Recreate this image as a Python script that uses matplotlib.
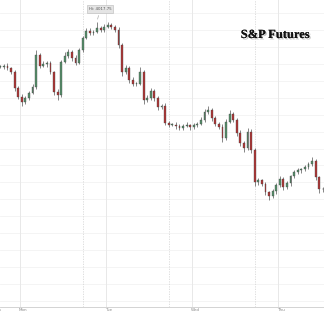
import matplotlib
matplotlib.use('Agg')
import matplotlib.pyplot as plt
import matplotlib.patheffects as pe
import numpy as np

# hourly candles, first one opens Sunday 18:00 (hour -6 relative to Monday 00:00)
start_hour = -6
first_open = 3995.25
closes = [
    3995.25, 3995.75, 3994.75, 3992.75, 3984.75, 3980.25, 3977.75, 3979.75, 3982.25, 3985.25,
    4001.25, 3995.75, 3996.75, 3997.25, 3992.75, 3982.75, 3981.25, 3997.75, 4000.75, 4002.75,
    3999.75, 3997.25, 4003.75, 4009.75, 4013.25, 4012.25, 4012.75, 4014.75, 4013.75, 4015.25,
    4016.25, 4015.25, 4013.75, 4006.25, 3992.75, 3994.75, 3988.75, 3986.75, 3986.75, 3992.75,
    3978.75, 3979.75, 3983.25, 3979.75, 3975.25, 3975.75, 3967.25, 3966.25, 3966.25, 3965.75,
    3964.75, 3965.75, 3966.25, 3965.25, 3966.25, 3966.75, 3968.75, 3972.75, 3973.75, 3969.75,
    3966.75, 3965.25, 3959.75, 3967.75, 3971.75, 3968.75, 3962.25, 3957.25, 3954.75, 3962.75,
    3953.75, 3937.25, 3938.25, 3936.25, 3932.25, 3930.25, 3932.75, 3935.75, 3938.75, 3934.75,
    3936.75, 3940.25, 3942.25, 3943.25, 3943.75, 3944.75, 3946.25, 3947.75, 3939.75, 3933.75,
    3933.75, 3936.25,
]
wick_up = [
    1.0, 0.75, 1.25, 0.5, 1.0, 0.75, 1.5, 1.0, 0.75, 1.25,
    2.5, 1.0, 1.5, 0.75, 1.0, 0.5, 1.25, 1.0, 2.0, 1.5,
    1.0, 1.25, 0.75, 1.0, 1.5, 1.25, 1.0, 3.0, 1.0, 1.5,
    1.25, 1.0, 0.75, 1.5, 1.0, 1.5, 1.0, 1.25, 0.75, 2.5,
    1.0, 1.5, 1.25, 1.0, 0.75, 1.0, 1.25, 0.75, 1.0, 1.25,
    0.75, 1.0, 1.25, 0.5, 1.0, 0.75, 1.25, 1.5, 2.0, 1.0,
    0.75, 1.0, 1.25, 1.5, 2.0, 1.0, 0.75, 1.25, 1.0, 2.0,
    1.5, 1.0, 1.25, 0.75, 1.0, 0.5, 1.25, 1.0, 1.5, 1.0,
    1.25, 0.75, 1.0, 1.25, 0.75, 1.0, 1.25, 2.0, 1.0, 0.75,
    1.0, 1.25,
]
wick_dn = [
    0.75, 1.0, 1.25, 1.0, 1.5, 1.25, 2.0, 1.0, 1.25, 0.75,
    1.0, 1.25, 0.75, 1.5, 1.0, 1.75, 2.5, 1.0, 0.75, 1.25,
    1.5, 1.0, 0.75, 1.0, 0.5, 1.25, 1.0, 0.75, 1.25, 1.0,
    0.5, 1.0, 1.25, 1.5, 2.0, 1.0, 1.5, 1.25, 1.0, 0.75,
    2.0, 1.25, 1.0, 1.5, 1.75, 1.0, 1.25, 1.0, 0.75, 1.5,
    1.25, 1.0, 0.75, 1.5, 1.0, 1.25, 0.75, 1.0, 1.25, 1.5,
    1.0, 1.25, 2.0, 1.0, 0.75, 1.25, 1.5, 1.75, 2.0, 1.25,
    1.5, 2.0, 1.25, 1.0, 1.5, 1.75, 1.0, 1.25, 1.0, 1.5,
    1.0, 1.25, 0.75, 1.0, 1.25, 1.0, 0.75, 1.0, 1.5, 2.0,
    1.25, 1.0,
]
day_names = ['Sun', 'Mon', 'Tue', 'Wed', 'Thu']
day_hours = [-24, 0, 24, 48, 72]
session_breaks = [17.5, 41.5, 65.5]
hi_label = 'Hi: 4017.75'
title = 'S&P Futures'

closes = np.array(closes)
opens = np.concatenate([[first_open], closes[:-1]])
highs = np.maximum(opens, closes) + np.array(wick_up)
lows = np.minimum(opens, closes) - np.array(wick_dn)
hours = start_hour + np.arange(len(closes)) + 0.5
up = closes >= opens

fig = plt.figure(figsize=(3.24, 3.15), dpi=100)
ax = fig.add_axes([0, 8 / 315, 1, 307 / 315])

# grid
for y in np.arange(3877.75, 4030, 8.5):
    ax.axhline(y, color='#f3f3f3', lw=0.6, zorder=0)
for h in day_hours[1:]:
    ax.axvline(h, color='#e8e8e8', lw=0.7, zorder=0)
for h in session_breaks:
    ax.axvline(h, color='#d8d8d8', lw=0.6, ls=(0, (1.5, 1.5)), zorder=0)

# candles
ax.vlines(hours, lows, highs, color='#444444', lw=0.45, zorder=2)
body_col = np.where(up, '#55906a', '#b03535')
ax.bar(hours, np.maximum(np.abs(closes - opens), 0.25), bottom=np.minimum(opens, closes),
       width=0.5, color=body_col, edgecolor='#444444', linewidth=0.25, zorder=3)

# high marker
hi_idx = int(np.argmax(highs))
ax.annotate(hi_label, xy=(hours[hi_idx], highs[hi_idx]), xytext=(hours[hi_idx] + 0.8, highs[hi_idx] + 6.5),
            fontsize=2.8, color='#555555', ha='center', va='center',
            bbox=dict(boxstyle='square,pad=0.4', fc='#e4e4e4', ec='#b8b8b8', lw=0.4),
            arrowprops=dict(arrowstyle='-', color='#999999', lw=0.4), zorder=4)

ax.text(0.849, 0.886, title, transform=ax.transAxes, ha='center', va='center',
        fontsize=9, fontweight='bold', family='Liberation Serif', color='#111111',
        path_effects=[pe.withSimplePatchShadow(offset=(1, -1), shadow_rgbFace='#888888', alpha=0.5), pe.Normal()])

# day labels
for name, h in zip(day_names, day_hours):
    ax.text(h + 0.85 if name != 'Sun' else start_hour - 0.3, -0.004, name, transform=ax.get_xaxis_transform(),
            ha='center', va='top', fontsize=3, color='#888888', clip_on=False)

ax.set_xlim(-5.58, 84.84)
ax.set_ylim(3874.75, 4028.75)
ax.set_xticks([])
ax.set_yticks([])
for s in ['top', 'right', 'left']:
    ax.spines[s].set_visible(False)
ax.spines['bottom'].set_color('#cccccc')
ax.spines['bottom'].set_linewidth(0.6)

fig.savefig('out.png', dpi=100)
